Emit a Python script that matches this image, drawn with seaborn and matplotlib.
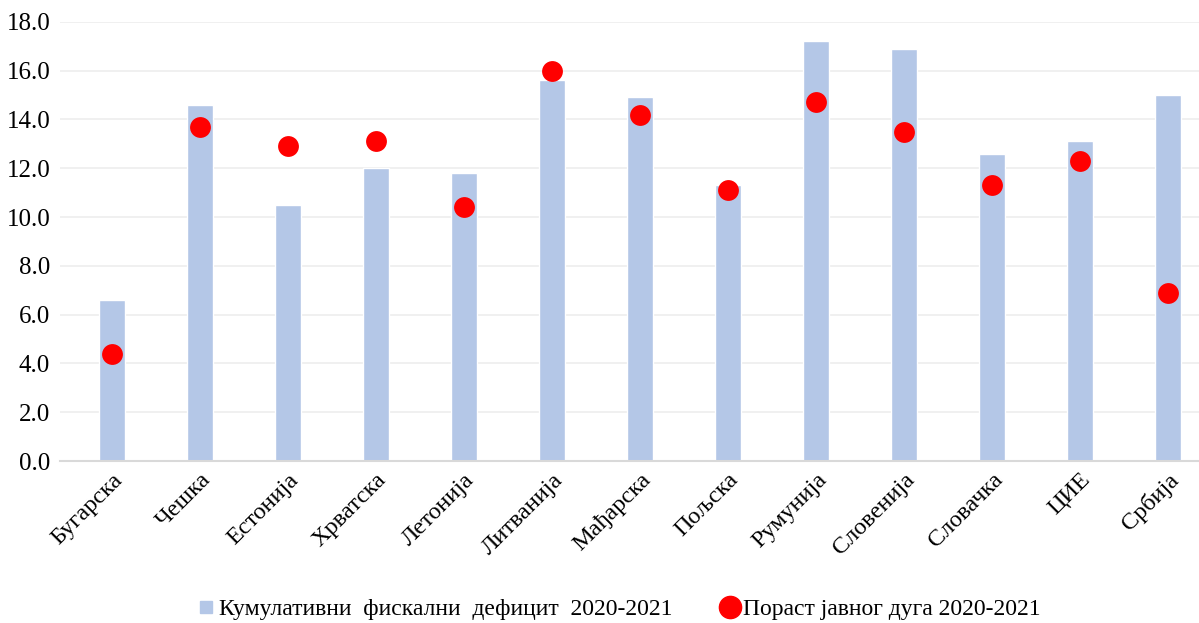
import matplotlib.pyplot as plt
import pandas as pd
import seaborn as sns
from matplotlib.lines import Line2D

countries = ["Бугарска", "Чешка", "Естонија", "Хрватска", "Летонија", "Литванија",
             "Мађарска", "Пољска", "Румунија", "Словенија", "Словачка", "ЦИЕ", "Србија"]
deficit = [6.6, 14.6, 10.5, 12.0, 11.8, 15.6, 14.9, 11.3, 17.2, 16.9, 12.6, 13.1, 15.0]
debt_growth = [4.4, 13.7, 12.9, 13.1, 10.4, 16.0, 14.2, 11.1, 14.7, 13.5, 11.3, 12.3, 6.9]
yticks = [0, 2, 4, 6, 8, 10, 12, 14, 16, 18]

bar_label = "Кумулативни  фискални  дефицит  2020-2021"
dot_label = "Пораст јавног дуга 2020-2021"
bar_color = "#B4C7E7"
dot_color = "#FF0000"

df = pd.DataFrame({"country": countries, "deficit": deficit, "debt": debt_growth})

sns.set_style("white")
plt.rcParams["font.family"] = ["Liberation Serif", "DejaVu Serif"]
plt.rcParams["text.color"] = "black"
plt.rcParams["xtick.color"] = "black"
plt.rcParams["ytick.color"] = "black"

fig, ax = plt.subplots(figsize=(11.99, 6.23), dpi=100)
fig.subplots_adjust(left=0.05, right=1.0, top=0.965, bottom=0.26)

sns.barplot(data=df, x="country", y="deficit", color=bar_color, width=0.3,
            saturation=1, ax=ax, zorder=2)
sns.stripplot(data=df, x="country", y="debt", color=dot_color, jitter=False,
              size=15, linewidth=0, ax=ax, zorder=3)

ax.set_ylim(0, 18)
ax.set_xlim(-0.59, 12.35)
ax.set_yticks(yticks)
ax.set_yticklabels([f"{v:.1f}" for v in yticks], fontsize=18)
ax.yaxis.grid(True, color="#EDEDED", linewidth=1.2, zorder=0)
ax.set_axisbelow(True)
ax.tick_params(axis="y", length=0, pad=7)
ax.tick_params(axis="x", length=0, pad=6)
plt.setp(ax.get_xticklabels(), rotation=45, ha="right", rotation_mode="anchor",
         fontsize=17.5)
ax.set_xlabel("")
ax.set_ylabel("")
for side in ["top", "right", "left"]:
    ax.spines[side].set_visible(False)
ax.spines["bottom"].set_color("#D9D9D9")
ax.spines["bottom"].set_linewidth(1.5)

handles = [Line2D([0], [0], marker="s", linestyle="", markersize=9,
                  color=bar_color, label=bar_label),
           Line2D([0], [0], marker="o", linestyle="", markersize=16,
                  color=dot_color, label=dot_label)]
fig.legend(handles=handles, loc="lower center", ncol=2, frameon=False,
           fontsize=17, bbox_to_anchor=(0.51, -0.03), handletextpad=-0.45,
           handlelength=2.0, columnspacing=1.4)

fig.savefig("out.png", dpi=100)
